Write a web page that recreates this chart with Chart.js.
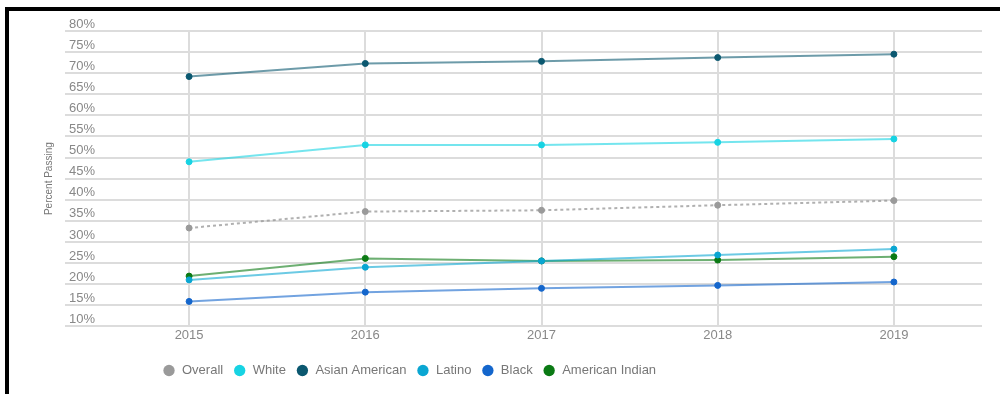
<!DOCTYPE html>
<html>
<head>
<meta charset="utf-8">
<script src="https://cdn.jsdelivr.net/npm/chart.js@4/dist/chart.umd.min.js"></script>
<style>
  html, body { margin: 0; padding: 0; background: #fff; }
  #wrap { position: relative; width: 1000px; height: 394px; overflow: hidden; background: #fff; }
  #frame { position: absolute; left: 5px; top: 7px; width: 1100px; height: 500px;
           border-left: 4px solid #000; border-top: 4px solid #000; }
  #chart { position: absolute; left: 0; top: 0; }
</style>
</head>
<body>
<div id="wrap">
  <div id="frame"></div>
  <canvas id="chart" width="1000" height="394"></canvas>
</div>
<script>
// Pass rates by group, 2015–2019 (percent)
const years = ['2015', '2016', '2017', '2018', '2019'];
const overall = [33.3, 37.2, 37.5, 38.7, 39.8];
const white = [49.0, 53.0, 53.0, 53.6, 54.4];
const asianAmerican = [69.2, 72.3, 72.8, 73.7, 74.5];
const latino = [21.0, 24.0, 25.5, 26.9, 28.3];
const black = [15.9, 18.1, 19.0, 19.7, 20.5];
const americanIndian = [21.9, 26.1, 25.5, 25.7, 26.5];

// Y axis: 10% to 80% in 5-point steps
const yMin = 10;
const yMax = 80;
const yStep = 5;

Chart.defaults.font.family = "'Liberation Sans', Arial, sans-serif";

function series(label, data, color, lineColor, dash) {
  return {
    label: label,
    data: data,
    borderColor: lineColor,
    backgroundColor: color,
    pointBackgroundColor: color,
    pointBorderColor: color,
    pointRadius: 3,
    pointBorderWidth: 1,
    borderWidth: 2,
    borderDash: dash || [],
    tension: 0,
    fill: false
  };
}

// Places the legend row at a fixed starting x
const legendPlacement = {
  id: 'legendPlacement',
  afterLayout(chart) {
    chart.legend.left = 152.5;
  }
};

new Chart(document.getElementById('chart'), {
  type: 'line',
  data: {
    labels: years,
    datasets: [
      series('Overall', overall, '#9a9a9a', 'rgba(150,150,150,0.75)', [3, 3]),
      series('White', white, '#17d3e3', 'rgba(23,211,227,0.6)'),
      series('Asian American', asianAmerican, '#0b5870', 'rgba(11,88,112,0.6)'),
      series('Latino', latino, '#0aa6d2', 'rgba(10,166,210,0.6)'),
      series('Black', black, '#1466cc', 'rgba(20,102,204,0.6)'),
      series('American Indian', americanIndian, '#0b7a14', 'rgba(11,122,20,0.6)')
    ]
  },
  options: {
    responsive: false,
    animation: false,
    layout: { padding: { top: 31, right: 18, bottom: 7, left: 39 } },
    plugins: {
      tooltip: { enabled: false },
      legend: {
        position: 'bottom',
        align: 'start',
        labels: {
          usePointStyle: true,
          pointStyle: 'circle',
          boxHeight: 8,
          padding: 10,
          color: '#777',
          font: { size: 13 },
          generateLabels(chart) {
            return Chart.defaults.plugins.legend.labels.generateLabels(chart).map(item => {
              item.strokeStyle = item.fillStyle;
              item.lineDash = [];
              item.lineWidth = 0;
              return item;
            });
          }
        }
      }
    },
    scales: {
      x: {
        offset: true,
        grid: { offset: false, color: '#dcdcdc', lineWidth: 2, drawTicks: false },
        border: { display: false },
        ticks: { padding: 1, color: '#888', font: { size: 13 } },
        afterFit(scale) { scale.height = 27.7; }
      },
      y: {
        min: yMin,
        max: yMax,
        grid: { color: '#dcdcdc', lineWidth: 2, drawTicks: true, tickLength: 36 },
        border: { display: false },
        ticks: {
          stepSize: yStep,
          padding: -30,
          labelOffset: -7,
          color: '#888',
          font: { size: 13 },
          callback: v => v + '%'
        },
        title: {
          display: true,
          text: 'Percent Passing',
          color: '#777',
          font: { size: 10 },
          padding: { top: 4, bottom: 4 }
        },
        afterFit(scale) { scale.width = 62; }
      }
    }
  },
  plugins: [legendPlacement]
});
</script>
</body>
</html>
